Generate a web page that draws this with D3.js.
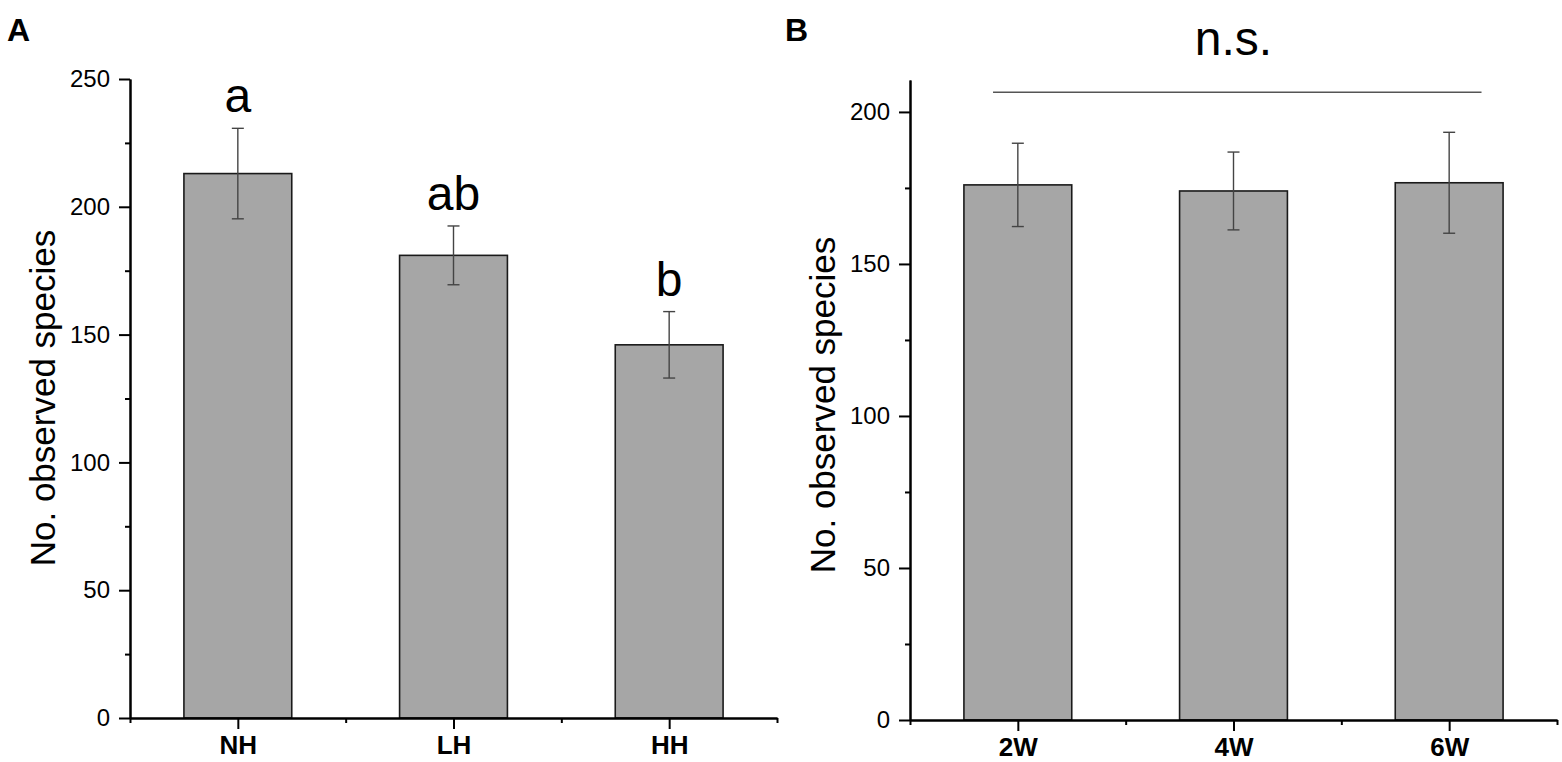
<!DOCTYPE html>
<html>
<head>
    <meta charset="utf-8">
    <title>observed_species</title>
    <script type="text/javascript" src="https://cdn.jsdelivr.net/npm/d3@7/dist/d3.min.js"></script>
    <style>
        body { margin: 0; background: #fff; }
        svg { font-family: "Liberation Sans", Arial, sans-serif; }
        .bar { fill: #a6a6a6; stroke: #1a1a1a; stroke-width: 1.6px; }
        .err { stroke: #444; stroke-width: 1.4px; fill: none; }
        .axis path, .axis line { stroke: #000; stroke-width: 2px; }
        .axis text { fill: #000; font-size: 24px; }
        .xaxis text { font-weight: bold; font-size: 26px; }
        .ylabel { font-size: 35px; fill: #000; }
        .letter { font-size: 48px; fill: #000; }
        .panel { font-size: 32px; font-weight: bold; fill: #000; }
    </style>
</head>
<body>
<div id="svg_div"></div>
<script type="text/javascript">
    // panel A : hunting / habitat groups
    var groupsA = ["NH", "LH", "HH"],
        meansA = [213, 181, 146],
        sdA = [17.7, 11.5, 13],
        lettersA = ["a", "ab", "b"],
        yTicksA = [0, 50, 100, 150, 200, 250];

    // panel B : weeks
    var groupsB = ["2W", "4W", "6W"],
        meansB = [176, 174, 176.7],
        sdB = [13.7, 12.8, 16.6],
        yTicksB = [0, 50, 100, 150, 200];

    var width = 1562,
        height = 762;

    var svg = d3.select("#svg_div").append("svg")
        .attr("width", width)
        .attr("height", height);

    function drawPanel(opt) {
        var g = svg.append("g");

        var x = d3.scaleLinear().domain([0.5, opt.groups.length + 0.5]).range([opt.left, opt.right]);
        var y = d3.scaleLinear().domain([0, opt.ymax]).range([opt.bottom, opt.top]);

        var data = opt.groups.map(function(d, i) {
            return {name: d, pos: i + 1, mean: opt.means[i], sd: opt.sd[i], letter: opt.letters ? opt.letters[i] : null};
        });

        // bars
        g.selectAll(".bar")
            .data(data)
            .enter()
            .append("rect")
            .attr("class", "bar")
            .attr("x", function(d) { return x(d.pos - 0.25); })
            .attr("width", function(d) { return x(d.pos + 0.25) - x(d.pos - 0.25); })
            .attr("y", function(d) { return y(d.mean); })
            .attr("height", function(d) { return y(0) - y(d.mean); });

        // error bars
        var eg = g.selectAll(".errg")
            .data(data)
            .enter()
            .append("g")
            .attr("class", "errg");
        eg.append("line").attr("class", "err")
            .attr("x1", function(d) { return x(d.pos); })
            .attr("x2", function(d) { return x(d.pos); })
            .attr("y1", function(d) { return y(d.mean - d.sd); })
            .attr("y2", function(d) { return y(d.mean + d.sd); });
        eg.append("line").attr("class", "err")
            .attr("x1", function(d) { return x(d.pos) - 6; })
            .attr("x2", function(d) { return x(d.pos) + 6; })
            .attr("y1", function(d) { return y(d.mean + d.sd); })
            .attr("y2", function(d) { return y(d.mean + d.sd); });
        eg.append("line").attr("class", "err")
            .attr("x1", function(d) { return x(d.pos) - 6; })
            .attr("x2", function(d) { return x(d.pos) + 6; })
            .attr("y1", function(d) { return y(d.mean - d.sd); })
            .attr("y2", function(d) { return y(d.mean - d.sd); });

        // letters above bars
        if (opt.letters) {
            g.selectAll(".letter")
                .data(data)
                .enter()
                .append("text")
                .attr("class", "letter")
                .attr("text-anchor", "middle")
                .attr("x", function(d) { return x(d.pos); })
                .attr("y", function(d) { return y(d.mean + d.sd) - 16; })
                .text(function(d) { return d.letter; });
        }

        // y axis, major + minor
        var minorY = d3.range(25, opt.ymax, 50);
        g.append("g")
            .attr("class", "axis")
            .attr("transform", "translate(" + opt.left + ",0)")
            .call(d3.axisLeft(y).tickValues(minorY).tickSize(5).tickSizeOuter(0).tickFormat(""));
        g.append("g")
            .attr("class", "axis")
            .attr("transform", "translate(" + opt.left + ",0)")
            .call(d3.axisLeft(y).tickValues(opt.yticks).tickSize(11).tickPadding(9).tickSizeOuter(0).tickFormat(d3.format("d")));

        // x axis, major at groups, minor between
        var minorX = d3.range(0.5, opt.groups.length + 1, 1);
        g.append("g")
            .attr("class", "axis")
            .attr("transform", "translate(0," + opt.bottom + ")")
            .call(d3.axisBottom(x).tickValues(minorX).tickSize(5).tickSizeOuter(0).tickFormat(""));
        g.append("g")
            .attr("class", "axis xaxis")
            .attr("transform", "translate(0," + opt.bottom + ")")
            .call(d3.axisBottom(x).tickValues(data.map(function(d) { return d.pos; }))
                .tickSize(11).tickPadding(7).tickSizeOuter(0)
                .tickFormat(function(v) { return opt.groups[v - 1]; }));

        // y title
        g.append("text")
            .attr("class", "ylabel")
            .attr("text-anchor", "middle")
            .attr("transform", "translate(" + opt.titleX + "," + opt.titleY + ") rotate(-90)")
            .text("No. observed species");

        // panel letter
        g.append("text")
            .attr("class", "panel")
            .attr("x", opt.panelX)
            .attr("y", 41)
            .text(opt.panel);

        return {x: x, y: y, g: g};
    }

    var pA = drawPanel({
        groups: groupsA, means: meansA, sd: sdA, letters: lettersA, yticks: yTicksA,
        ymax: 250, left: 130, right: 777, top: 79, bottom: 718,
        titleX: 55, titleY: 398, panel: "A", panelX: 7
    });

    var pB = drawPanel({
        groups: groupsB, means: meansB, sd: sdB, letters: null, yticks: yTicksB,
        ymax: 210.5, left: 910, right: 1557, top: 80, bottom: 720,
        titleX: 835, titleY: 405, panel: "B", panelX: 785
    });

    // n.s. bracket across panel B
    pB.g.append("line")
        .attr("x1", pB.x(0.885))
        .attr("x2", pB.x(3.15))
        .attr("y1", pB.y(206.5))
        .attr("y2", pB.y(206.5))
        .attr("stroke", "#555")
        .attr("stroke-width", 1.5);
    pB.g.append("text")
        .attr("class", "letter")
        .attr("text-anchor", "middle")
        .attr("x", pB.x(2))
        .attr("y", pB.y(206.5) - 37)
        .text("n.s.");
</script>
</body>
</html>
